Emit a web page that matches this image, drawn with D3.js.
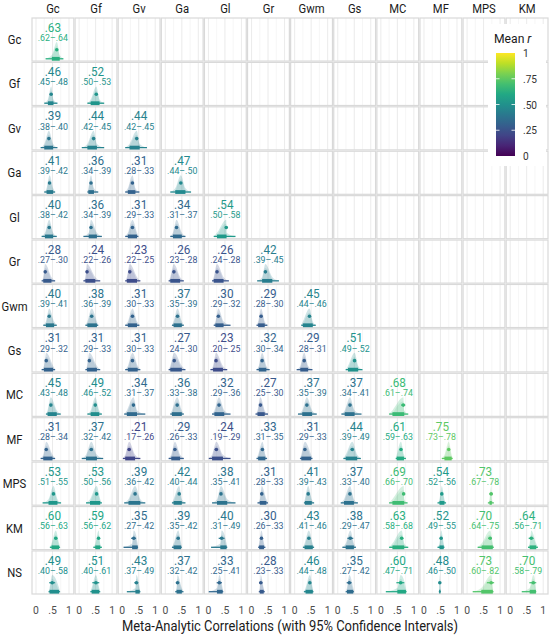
<!DOCTYPE html>
<html>
<head>
<meta charset="utf-8">
<script src="https://cdn.jsdelivr.net/npm/d3@7"></script>
<style>
  body { margin: 0; background: #fff; }
  text { font-family: Roboto, "Noto Sans", sans-serif; }
</style>
</head>
<body>
<script>
// 图尺寸
const width = 550;
const height = 638;

// 行、列标签
const rowNames = ["Gc", "Gf", "Gv", "Ga", "Gl", "Gr", "Gwm", "Gs", "MC", "MF", "MPS", "KM", "NS"];
const colNames = rowNames.slice(0, 12);
const axisTicks = [0, 0.5, 1];
const axisTickLabels = ["0", ".5", "1"];
const legendTicks = [0, 0.25, 0.5, 0.75, 1];
const legendTickLabels = ["0", ".25", ".50", ".75", "1"];

// 平均相关 (下三角)
const meanR = [
  [.63],
  [.46, .52],
  [.39, .44, .44],
  [.41, .36, .31, .47],
  [.40, .36, .31, .34, .54],
  [.28, .24, .23, .26, .26, .42],
  [.40, .38, .31, .37, .30, .29, .45],
  [.31, .31, .31, .27, .23, .32, .29, .51],
  [.45, .49, .34, .36, .32, .27, .37, .37, .68],
  [.31, .37, .21, .29, .24, .33, .31, .44, .61, .75],
  [.53, .53, .39, .42, .38, .31, .41, .37, .69, .54, .73],
  [.60, .59, .35, .39, .40, .30, .43, .38, .63, .52, .70, .64],
  [.49, .51, .43, .37, .33, .28, .46, .35, .60, .48, .73, .70]
];

// 95% 置信区间
const ciLow = [
  [.62],
  [.45, .50],
  [.38, .42, .42],
  [.39, .34, .28, .44],
  [.38, .34, .29, .31, .50],
  [.27, .22, .22, .23, .24, .39],
  [.39, .36, .30, .35, .29, .28, .44],
  [.29, .29, .30, .24, .20, .30, .28, .49],
  [.43, .46, .31, .33, .29, .25, .35, .34, .61],
  [.28, .32, .17, .26, .19, .31, .29, .39, .59, .73],
  [.51, .50, .36, .40, .35, .28, .39, .33, .66, .52, .67],
  [.56, .56, .27, .35, .31, .26, .41, .29, .58, .49, .64, .56],
  [.40, .40, .37, .32, .25, .23, .44, .27, .47, .46, .60, .58]
];
const ciHigh = [
  [.64],
  [.48, .53],
  [.40, .45, .45],
  [.42, .39, .33, .50],
  [.42, .39, .33, .37, .58],
  [.30, .26, .25, .28, .28, .45],
  [.41, .39, .33, .39, .32, .30, .46],
  [.32, .33, .33, .30, .25, .34, .31, .52],
  [.48, .52, .37, .38, .36, .30, .39, .41, .74],
  [.34, .42, .26, .33, .29, .35, .33, .49, .63, .78],
  [.55, .56, .42, .44, .41, .33, .43, .40, .70, .56, .78],
  [.63, .62, .42, .42, .49, .33, .46, .47, .68, .55, .75, .71],
  [.58, .61, .49, .42, .41, .33, .48, .42, .71, .50, .82, .79]
];

// 分布区间 (细线 95%, 粗线 66%)
const q95Low = [
  [.29],
  [.25, .25],
  [.14, .08, .09],
  [.25, .25, .09, .15],
  [.17, .13, .09, .15, .16],
  [.17, .13, .09, .10, .11, .17],
  [.22, .19, .09, .20, .16, .15, .20],
  [.17, .19, .09, .10, .06, .15, .06, .24],
  [.30, .25, .06, .15, .11, .12, .10, .11, .25],
  [.14, .08, .02, .10, .01, .15, .16, .17, .45, .54],
  [.20, .21, .06, .20, .11, .18, .28, .09, .25, .41, .63],
  [.42, .43, .04, .20, .08, .20, .25, .14, .25, .41, .32, .54],
  [.38, .34, .14, .30, .01, .22, .28, .24, .15, .45, .17, .35]
];
const q66Low = [
  [.48],
  [.36, .35],
  [.25, .25, .22],
  [.32, .28, .17, .30],
  [.27, .29, .17, .23, .26],
  [.22, .19, .14, .15, .16, .32],
  [.30, .25, .17, .25, .21, .20, .25],
  [.24, .24, .17, .15, .14, .22, .17, .31],
  [.35, .35, .14, .20, .18, .18, .23, .21, .35],
  [.22, .21, .09, .18, .11, .20, .20, .24, .48, .62],
  [.38, .33, .19, .25, .26, .25, .31, .19, .35, .47, .68],
  [.47, .49, .30, .25, .36, .23, .30, .24, .35, .47, .44, .59],
  [.41, .38, .40, .34, .26, .25, .33, .28, .50, .46, .43, .59]
];
const q66High = [
  [.72],
  [.53, .62],
  [.52, .54, .53],
  [.52, .45, .40, .61],
  [.52, .54, .45, .50, .55],
  [.47, .49, .45, .45, .46, .63],
  [.55, .54, .45, .50, .46, .40, .55],
  [.52, .54, .47, .50, .44, .45, .41, .62],
  [.63, .61, .45, .50, .48, .40, .53, .51, .71],
  [.50, .54, .39, .45, .44, .42, .50, .59, .70, .84],
  [.65, .64, .55, .50, .57, .45, .52, .49, .71, .62, .75],
  [.70, .64, .47, .48, .55, .38, .55, .49, .71, .60, .78, .79],
  [.70, .61, .53, .50, .43, .37, .55, .47, .76, .50, .78, .78]
];
const q95High = [
  [.83],
  [.65, .76],
  [.65, .76, .75],
  [.58, .58, .52, .78],
  [.63, .69, .49, .61, .82],
  [.58, .64, .55, .56, .62, .83],
  [.63, .58, .52, .56, .67, .48, .64],
  [.58, .64, .55, .61, .57, .55, .54, .75],
  [.75, .69, .70, .56, .67, .50, .67, .72, .83],
  [.58, .73, .55, .56, .67, .47, .54, .70, .76, .87],
  [.76, .69, .70, .61, .82, .50, .59, .61, .81, .67, .81],
  [.73, .69, .48, .50, .57, .42, .59, .55, .83, .62, .81, .84],
  [.73, .64, .55, .55, .45, .40, .57, .49, .78, .51, .80, .79]
];

// 组装单元格
const cells = [];
rowNames.forEach((r, i) => {
  meanR[i].forEach((m, j) => {
    cells.push({
      row: r, col: colNames[j], mean: m,
      lo: ciLow[i][j], hi: ciHigh[i][j],
      q95: [q95Low[i][j], q95High[i][j]],
      q66: [q66Low[i][j], q66High[i][j]]
    });
  });
});

const fmt = v => d3.format(".2f")(v).replace(/^0/, "");

// 创建 SVG
const svg = d3.select("body").append("svg")
  .attr("width", width)
  .attr("height", height);

const col = d3.scaleBand().domain(colNames).range([32, 548]).paddingInner(0.03);
const row = d3.scaleBand().domain(rowNames).range([18, 594]).paddingInner(0.03);
const x = d3.scaleLinear().domain([0, 1]).range([4, 37]);
const dens = d3.scaleLinear().domain([0, 1]).range([40.8, 24]);
const color = d3.scaleSequential(d3.interpolateViridis).domain([0, 1]);

const baseY = 40.8, pointY = 31.8;

// 压缩文字 (模拟窄体)
function ctext(sel, tx, ty, str, size, fill, anchor, sx) {
  return sel.append("text")
    .attr("transform", `translate(${tx},${ty}) scale(${sx || 0.88},1)`)
    .attr("text-anchor", anchor || "middle")
    .attr("font-size", size)
    .attr("fill", fill)
    .text(str);
}

// 所有面板背景和网格
const panels = svg.append("g");
rowNames.forEach(r => {
  colNames.forEach(c => {
    const p = panels.append("g").attr("transform", `translate(${col(c)},${row(r)})`);
    p.append("rect")
      .attr("width", col.bandwidth()).attr("height", row.bandwidth())
      .attr("fill", "#fff");
    p.selectAll("line.minor").data([0.25, 0.75]).enter().append("line")
      .attr("x1", d => x(d)).attr("x2", d => x(d))
      .attr("y1", 0).attr("y2", row.bandwidth())
      .attr("stroke", "#f0f0f0").attr("stroke-width", 0.6);
    p.selectAll("line.major").data(axisTicks).enter().append("line")
      .attr("x1", d => x(d)).attr("x2", d => x(d))
      .attr("y1", 0).attr("y2", row.bandwidth())
      .attr("stroke", "#e6e6e6").attr("stroke-width", 0.8);
    p.append("rect")
      .attr("width", col.bandwidth()).attr("height", row.bandwidth())
      .attr("fill", "none").attr("stroke", "#d9d9d9").attr("stroke-width", 1.2);
  });
});

// 分布形状
const slab = d3.area()
  .x(d => x(d[0]))
  .y0(baseY)
  .y1(d => dens(d[1]))
  .curve(d3.curveMonotoneX);

const cell = svg.append("g").selectAll("g")
  .data(cells)
  .enter().append("g")
  .attr("transform", d => `translate(${col(d.col)},${row(d.row)})`);

cell.append("path")
  .attr("d", d => slab([[d.q95[0], 0], [d.q66[0], 0.22], [d.mean, 1], [d.q66[1], 0.22], [d.q95[1], 0]]))
  .attr("fill", d => color(d.mean))
  .attr("fill-opacity", 0.22);

cell.append("path")
  .attr("d", d => slab([[d.q66[0], 0], [d.mean, 0.75], [d.q66[1], 0]]))
  .attr("fill", d => color(d.mean))
  .attr("fill-opacity", 0.15);

// 底部区间
cell.append("line")
  .attr("x1", d => x(d.q95[0])).attr("x2", d => x(d.q95[1]))
  .attr("y1", baseY).attr("y2", baseY)
  .attr("stroke", d => color(d.mean)).attr("stroke-width", 1.3);
cell.append("line")
  .attr("x1", d => x(d.q66[0])).attr("x2", d => x(d.q66[1]))
  .attr("y1", baseY).attr("y2", baseY)
  .attr("stroke", d => color(d.mean)).attr("stroke-width", 3.8);

// 平均值及置信区间
cell.append("line")
  .attr("x1", d => x(d.lo)).attr("x2", d => x(d.hi))
  .attr("y1", pointY).attr("y2", pointY)
  .attr("stroke", d => color(d.mean)).attr("stroke-width", 1.2);
cell.append("circle")
  .attr("cx", d => x(d.mean)).attr("cy", pointY).attr("r", 1.8)
  .attr("fill", d => color(d.mean));

// 文字
cell.each(function(d) {
  const g = d3.select(this);
  ctext(g, col.bandwidth() / 2, 13.6, fmt(d.mean), 13.3, color(d.mean), "middle", 0.88);
  ctext(g, col.bandwidth() / 2, 22.8, `${fmt(d.lo)}–${fmt(d.hi)}`, 9.8, color(d.mean), "middle", 0.9);
});

// 列标签
colNames.forEach(c => {
  ctext(svg, col(c) + col.bandwidth() / 2, 12.5, c, 12.8, "#1a1a1a");
});
// 行标签
rowNames.forEach(r => {
  ctext(svg, 14.5, row(r) + row.bandwidth() / 2 + 4.5, r, 12.8, "#1a1a1a");
});

// x 轴刻度
colNames.forEach(c => {
  axisTicks.forEach((t, k) => {
    ctext(svg, col(c) + x(t), 613.5, axisTickLabels[k], 11.8, "#4d4d4d");
  });
});

// x 轴标题
svg.append("text")
  .attr("x", 290).attr("y", 631)
  .attr("text-anchor", "middle")
  .attr("font-size", 14.5)
  .attr("fill", "#1a1a1a")
  .attr("textLength", 336)
  .attr("lengthAdjust", "spacingAndGlyphs")
  .text("Meta-Analytic Correlations (with 95% Confidence Intervals)");

// 图例
const legend = svg.append("g");
legend.append("rect")
  .attr("x", 488).attr("y", 24).attr("width", 58).attr("height", 142)
  .attr("fill", "#fff");

const lt = legend.append("text")
  .attr("transform", "translate(494,43) scale(0.9,1)")
  .attr("font-size", 13.5).attr("fill", "#1a1a1a");
lt.append("tspan").text("Mean ");
lt.append("tspan").attr("font-style", "italic").text("r");

const defs = svg.append("defs");
const grad = defs.append("linearGradient")
  .attr("id", "viridisGrad")
  .attr("x1", 0).attr("y1", 1).attr("x2", 0).attr("y2", 0);
grad.selectAll("stop")
  .data(d3.range(0, 1.0001, 0.1))
  .enter().append("stop")
  .attr("offset", d => d)
  .attr("stop-color", d => color(d));

const ly = d3.scaleLinear().domain([0, 1]).range([156, 53]);
legend.append("rect")
  .attr("x", 496).attr("y", ly(1)).attr("width", 19).attr("height", ly(0) - ly(1))
  .attr("fill", "url(#viridisGrad)");

legend.selectAll("line.tl").data(legendTicks.slice(1, 4)).enter().append("line")
  .attr("x1", 496).attr("x2", 499.5).attr("y1", d => ly(d)).attr("y2", d => ly(d))
  .attr("stroke", "#fff").attr("stroke-width", 0.8);
legend.selectAll("line.tr").data(legendTicks.slice(1, 4)).enter().append("line")
  .attr("x1", 511.5).attr("x2", 515).attr("y1", d => ly(d)).attr("y2", d => ly(d))
  .attr("stroke", "#fff").attr("stroke-width", 0.8);

legendTicks.forEach((t, k) => {
  ctext(legend, 523, ly(t) + 4, legendTickLabels[k], 11.5, "#333", "start");
});
</script>
</body>
</html>
